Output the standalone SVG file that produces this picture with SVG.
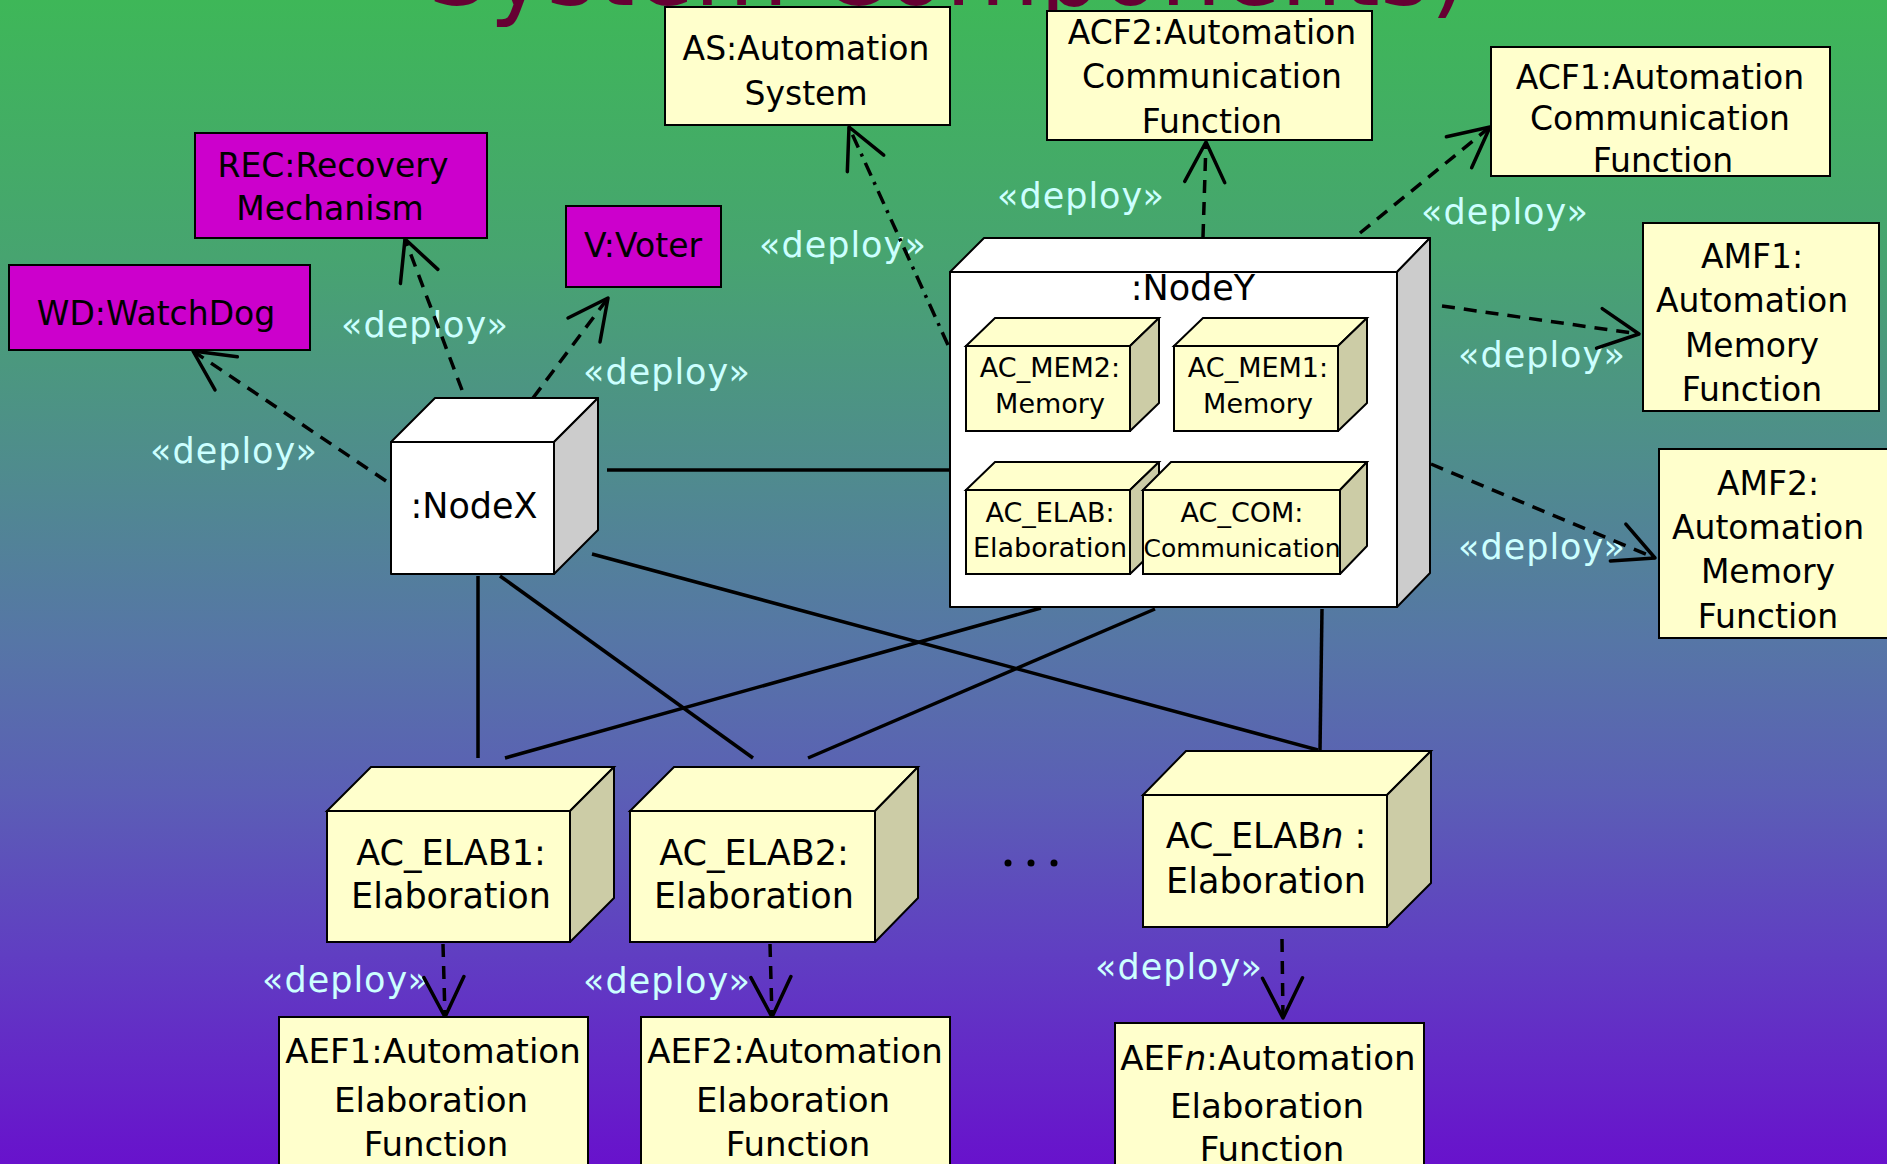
<svg xmlns="http://www.w3.org/2000/svg" width="1887" height="1164" viewBox="0 0 1887 1164">
  <defs>
    <linearGradient id="bg" x1="0" y1="0" x2="0" y2="1">
      <stop offset="0" stop-color="#3eb758"/>
      <stop offset="0.22" stop-color="#47a470"/>
      <stop offset="0.40" stop-color="#4f8c8d"/>
      <stop offset="0.55" stop-color="#5676a6"/>
      <stop offset="0.68" stop-color="#5b5fb5"/>
      <stop offset="0.82" stop-color="#603ec2"/>
      <stop offset="1" stop-color="#6812cc"/>
    </linearGradient>
    <marker id="open-arrow" markerUnits="userSpaceOnUse" markerWidth="60" markerHeight="60" viewBox="-50 -30 60 60" refX="0" refY="0" orient="auto" overflow="visible">
      <path d="M-40,-20 L0,0 L-40,20" fill="none" stroke="#000" stroke-width="3.5" stroke-linecap="round" stroke-linejoin="round"/>
    </marker>
    <style>
      .box { fill: #ffffcc; stroke: #000; stroke-width: 2; }
      .side { fill: #cccca6; stroke: #000; stroke-width: 2; stroke-linejoin: round; }
      .white { fill: #ffffff; stroke: #000; stroke-width: 2; stroke-linejoin: round; }
      .grey { fill: #cccccc; stroke: #000; stroke-width: 2; stroke-linejoin: round; }
      .mag { fill: #cc00cc; stroke: #000; stroke-width: 2; }
      .t { font-family: "DejaVu Sans", "Noto Sans", sans-serif; font-size: 33px; fill: #000; text-anchor: middle; }
      .big { font-size: 35px; }
      .aef { font-size: 34px; }
      .small { font-size: 27px; }
      .dep { font-family: "DejaVu Sans", "Noto Sans", sans-serif; font-size: 35px; fill: #ccffff; letter-spacing: 1px; }
      .link { stroke: #000; stroke-width: 3.5; fill: none; }
      .dash { stroke-dasharray: 13 9; }
      .dashdot { stroke-dasharray: 14 7 3 7; }
      .title { font-family: "DejaVu Sans", "Noto Sans", sans-serif; font-size: 104px; fill: #660033; }
    </style>
  </defs>

  <!-- background -->
  <rect x="0" y="0" width="1887" height="1164" fill="url(#bg)"/>

  <!-- slide title, running off the top edge -->
  <text class="title" x="428" y="5" textLength="1040" lengthAdjust="spacingAndGlyphs">System Components)</text>

  <!-- stereotype labels of the deployment links -->
  <g id="connector-labels">
    <text class="dep" x="150" y="463">«deploy»</text>
    <text class="dep" x="341" y="337">«deploy»</text>
    <text class="dep" x="583" y="384">«deploy»</text>
    <text class="dep" x="759" y="257">«deploy»</text>
    <text class="dep" x="997" y="208">«deploy»</text>
    <text class="dep" x="1421" y="224">«deploy»</text>
    <text class="dep" x="1458" y="367">«deploy»</text>
    <text class="dep" x="1458" y="559">«deploy»</text>
    <text class="dep" x="262" y="992">«deploy»</text>
    <text class="dep" x="583" y="993">«deploy»</text>
    <text class="dep" x="1095" y="979">«deploy»</text>
  </g>

  <!-- connectors -->
  <g id="connectors">
    <!-- communication paths -->
    <line class="link" x1="607" y1="470" x2="950" y2="470"/>
    <line class="link" x1="478" y1="576" x2="478" y2="758"/>
    <line class="link" x1="500" y1="576" x2="753" y2="758"/>
    <line class="link" x1="592" y1="554" x2="1318" y2="750"/>
    <line class="link" x1="1041" y1="608" x2="505" y2="758"/>
    <line class="link" x1="1155" y1="609" x2="808" y2="758"/>
    <line class="link" x1="1322" y1="609" x2="1320" y2="750"/>
    <!-- deploy dependencies -->
    <line class="link dash" x1="386" y1="481" x2="193" y2="351" marker-end="url(#open-arrow)"/>
    <line class="link dash" x1="462" y1="390" x2="405" y2="239" marker-end="url(#open-arrow)"/>
    <line class="link dash" x1="533" y1="398" x2="608" y2="298" marker-end="url(#open-arrow)"/>
    <line class="link dashdot" x1="948" y1="345" x2="849" y2="127" marker-end="url(#open-arrow)"/>
    <line class="link dash" x1="1203" y1="237" x2="1206" y2="142" marker-end="url(#open-arrow)"/>
    <line class="link dash" x1="1360" y1="233" x2="1490" y2="127" marker-end="url(#open-arrow)"/>
    <line class="link dash" x1="1442" y1="306" x2="1639" y2="334" marker-end="url(#open-arrow)"/>
    <line class="link dash" x1="1431" y1="464" x2="1655" y2="558" marker-end="url(#open-arrow)"/>
    <line class="link dash" x1="443" y1="944" x2="445" y2="1017" marker-end="url(#open-arrow)"/>
    <line class="link dash" x1="770" y1="944" x2="772" y2="1017" marker-end="url(#open-arrow)"/>
    <line class="link dash" x1="1282" y1="939" x2="1283" y2="1018" marker-end="url(#open-arrow)"/>
  </g>

  <!-- artifacts -->
  <g id="as">
    <rect class="box" x="665" y="7" width="285" height="118"/>
    <text class="t" x="806" y="60">AS:Automation</text>
    <text class="t" x="806" y="105">System</text>
  </g>
  <g id="acf2">
    <rect class="box" x="1047" y="11" width="325" height="129"/>
    <text class="t" x="1212" y="44">ACF2:Automation</text>
    <text class="t" x="1212" y="88">Communication</text>
    <text class="t" x="1212" y="133">Function</text>
  </g>
  <g id="acf1">
    <rect class="box" x="1491" y="47" width="339" height="129"/>
    <text class="t" x="1660" y="89">ACF1:Automation</text>
    <text class="t" x="1660" y="130">Communication</text>
    <text class="t" x="1663" y="172">Function</text>
  </g>
  <g id="amf1">
    <rect class="box" x="1643" y="223" width="236" height="188"/>
    <text class="t" x="1752" y="268">AMF1:</text>
    <text class="t" x="1752" y="312">Automation</text>
    <text class="t" x="1752" y="357">Memory</text>
    <text class="t" x="1752" y="401">Function</text>
  </g>
  <g id="amf2">
    <rect class="box" x="1659" y="449" width="240" height="189"/>
    <text class="t" x="1768" y="495">AMF2:</text>
    <text class="t" x="1768" y="539">Automation</text>
    <text class="t" x="1768" y="583">Memory</text>
    <text class="t" x="1768" y="628">Function</text>
  </g>
  <g id="rec">
    <rect class="mag" x="195" y="133" width="292" height="105"/>
    <text class="t" x="333" y="177">REC:Recovery</text>
    <text class="t" x="330" y="220">Mechanism</text>
  </g>
  <g id="voter">
    <rect class="mag" x="566" y="206" width="155" height="81"/>
    <text class="t" x="643" y="257">V:Voter</text>
  </g>
  <g id="watchdog">
    <rect class="mag" x="9" y="265" width="301" height="85"/>
    <text class="t" x="156" y="325">WD:WatchDog</text>
  </g>
  <g id="aef1">
    <rect class="box" x="279" y="1017" width="309" height="160"/>
    <text class="t aef" x="433" y="1063">AEF1:Automation</text>
    <text class="t aef" x="431" y="1112">Elaboration</text>
    <text class="t aef" x="436" y="1156">Function</text>
  </g>
  <g id="aef2">
    <rect class="box" x="641" y="1017" width="309" height="160"/>
    <text class="t aef" x="795" y="1063">AEF2:Automation</text>
    <text class="t aef" x="793" y="1112">Elaboration</text>
    <text class="t aef" x="798" y="1156">Function</text>
  </g>
  <g id="aefn">
    <rect class="box" x="1115" y="1023" width="309" height="160"/>
    <text class="t aef" x="1268" y="1070">AEF<tspan font-style="italic">n</tspan>:Automation</text>
    <text class="t aef" x="1267" y="1118">Elaboration</text>
    <text class="t aef" x="1272" y="1161">Function</text>
  </g>

  <!-- nodes -->
  <g id="node-x">
    <polygon class="white" points="391,442 435,398 598,398 554,442"/>
    <polygon class="grey" points="554,442 598,398 598,530 554,574"/>
    <rect class="white" x="391" y="442" width="163" height="132"/>
    <text class="t big" x="474" y="518">:NodeX</text>
  </g>
  <g id="node-y">
    <polygon class="white" points="950,272 984,238 1430,238 1397,272"/>
    <polygon class="grey" points="1397,272 1430,238 1430,573 1397,607"/>
    <rect class="white" x="950" y="272" width="447" height="335"/>
    <text class="t big" x="1193" y="300">:NodeY</text>
  </g>
  <g id="ac-mem2">
    <polygon class="box" points="966,346 995,318 1159,318 1130,346"/>
    <polygon class="side" points="1130,346 1159,318 1159,403 1130,431"/>
    <rect class="box" x="966" y="346" width="164" height="85"/>
    <text class="t small" x="1050" y="377">AC_MEM2:</text>
    <text class="t small" x="1050" y="413">Memory</text>
  </g>
  <g id="ac-mem1">
    <polygon class="box" points="1174,346 1203,318 1367,318 1338,346"/>
    <polygon class="side" points="1338,346 1367,318 1367,403 1338,431"/>
    <rect class="box" x="1174" y="346" width="164" height="85"/>
    <text class="t small" x="1258" y="377">AC_MEM1:</text>
    <text class="t small" x="1258" y="413">Memory</text>
  </g>
  <g id="ac-elab">
    <polygon class="box" points="966,490 995,462 1159,462 1130,490"/>
    <polygon class="side" points="1130,490 1159,462 1159,546 1130,574"/>
    <rect class="box" x="966" y="490" width="164" height="84"/>
    <text class="t small" x="1050" y="522">AC_ELAB:</text>
    <text class="t small" x="1050" y="557">Elaboration</text>
  </g>
  <g id="ac-com">
    <polygon class="box" points="1143,490 1171,462 1367,462 1340,490"/>
    <polygon class="side" points="1340,490 1367,462 1367,546 1340,574"/>
    <rect class="box" x="1143" y="490" width="197" height="84"/>
    <text class="t small" x="1242" y="522">AC_COM:</text>
    <text class="t" x="1242" y="557" style="font-size:25px">Communication</text>
  </g>
  <g id="ac-elab1">
    <polygon class="box" points="327,811 371,767 614,767 570,811"/>
    <polygon class="side" points="570,811 614,767 614,898 570,942"/>
    <rect class="box" x="327" y="811" width="243" height="131"/>
    <text class="t big" x="451" y="865">AC_ELAB1:</text>
    <text class="t big" x="451" y="908">Elaboration</text>
  </g>
  <g id="ac-elab2">
    <polygon class="box" points="630,811 674,767 918,767 875,811"/>
    <polygon class="side" points="875,811 918,767 918,898 875,942"/>
    <rect class="box" x="630" y="811" width="245" height="131"/>
    <text class="t big" x="754" y="865">AC_ELAB2:</text>
    <text class="t big" x="754" y="908">Elaboration</text>
  </g>
  <g id="ac-elabn">
    <polygon class="box" points="1143,795 1186,751 1431,751 1387,795"/>
    <polygon class="side" points="1387,795 1431,751 1431,883 1387,927"/>
    <rect class="box" x="1143" y="795" width="244" height="132"/>
    <text class="t big" x="1266" y="848">AC_ELAB<tspan font-style="italic">n</tspan> :</text>
    <text class="t big" x="1266" y="893">Elaboration</text>
  </g>

  <!-- ellipsis between the elaboration nodes -->
  <g id="ellipsis" fill="#000">
    <circle cx="1008" cy="863" r="3.5"/>
    <circle cx="1031" cy="863" r="3.5"/>
    <circle cx="1054" cy="863" r="3.5"/>
  </g>
</svg>
